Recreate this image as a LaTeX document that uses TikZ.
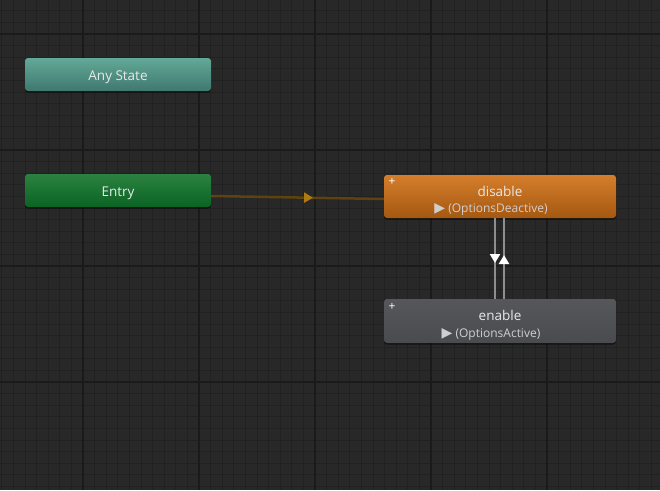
\documentclass[tikz,border=0pt]{standalone}
\usepackage{fontspec}
\setmainfont{Open Sans}
\newfontfamily\symfont{DejaVu Sans}
\usetikzlibrary{arrows.meta,decorations.markings,shadows}
\definecolor{bgc}{HTML}{282828}
\definecolor{minorc}{HTML}{212121}
\definecolor{majorc}{HTML}{1A1A1A}
\definecolor{anytop}{HTML}{62A996}
\definecolor{anybot}{HTML}{3F7870}
\definecolor{entrytop}{HTML}{2B8240}
\definecolor{entrybot}{HTML}{0A6324}
\definecolor{distop}{HTML}{D47E2C}
\definecolor{disbot}{HTML}{A55810}
\definecolor{entop}{HTML}{56575B}
\definecolor{enbot}{HTML}{4A4B4F}
\definecolor{txt}{HTML}{E8E8E8}
\definecolor{subtxt}{HTML}{CFCFCF}
\definecolor{entryline}{HTML}{5E4210}
\definecolor{entrytip}{HTML}{B07A12}
\definecolor{transline}{HTML}{8E8E8E}
\tikzset{
  statebox/.style={rounded corners=3pt, inner sep=0pt, draw=none,
    drop shadow={shadow xshift=0pt, shadow yshift=-1.5pt, opacity=0.55, fill=black}},
  titletext/.style={text=txt, font=\fontsize{13.5}{15}\selectfont, inner sep=0pt, anchor=base},
  subtext/.style={text=subtxt, font=\fontsize{12}{13}\selectfont, inner sep=0pt, anchor=base},
  plustext/.style={text=white, font=\fontsize{12}{12}\selectfont, inner sep=0pt},
  entryarrow/.style={draw=entryline, line width=2.5pt,
    postaction={decorate, decoration={markings,
      mark=at position 0.59 with {\arrow[entrytip]{Triangle[length=9pt,width=10pt]}}}}},
  transarrow/.style={draw=transline, line width=2.8pt,
    postaction={decorate, decoration={markings,
      mark=at position #1 with {\arrow[white]{Triangle[length=9pt,width=10pt]}}}}}
}
\begin{document}
\begin{tikzpicture}[x=1pt,y=-1pt]
\fill[bgc] (0,0) rectangle (660,490);
\useasboundingbox (0,0) rectangle (660,490);
% grid
\foreach \i in {0,...,57} {
  \draw[minorc, line width=1pt] ({1.8+11.6*\i},0) -- ++(0,490);
}
\foreach \i in {0,...,42} {
  \draw[minorc, line width=1pt] (0,{-0.8+11.6*\i}) -- ++(660,0);
}
\foreach \x in {83,199,315,431,547} {
  \draw[majorc, line width=1.2pt] (\x,0) -- ++(0,490);
}
\foreach \y in {34,150,266,382} {
  \draw[majorc, line width=1.2pt] (0,\y) -- ++(660,0);
}
% states
\node[statebox, top color=anytop, bottom color=anybot,
  minimum width=186pt, minimum height=33pt] (any) at (118,74.5) {};
\node[titletext] (anylbl) at (118,80) {Any State};
\node[statebox, top color=entrytop, bottom color=entrybot,
  minimum width=186pt, minimum height=33pt] (entry) at (118,190.5) {};
\node[titletext] (entrylbl) at (118,196) {Entry};
\node[statebox, top color=distop, bottom color=disbot,
  minimum width=232pt, minimum height=43pt] (disable) at (500,196.5) {};
\node[titletext] (dislbl) at (500,196) {disable};
\node[subtext] (dissub) at (491,212) {{\symfont\fontsize{14}{14}\selectfont ▶} (OptionsDeactive)};
\node[plustext] (displus) at (392,182) {+};
\node[statebox, top color=entop, bottom color=enbot,
  minimum width=232pt, minimum height=44pt] (enable) at (500,321) {};
\node[titletext] (enlbl) at (500,320.5) {enable};
\node[subtext] (ensub) at (491,337.5) {{\symfont\fontsize{14}{14}\selectfont ▶} (OptionsActive)};
\node[plustext] (enplus) at (392,307) {+};
% transitions
\draw[entryarrow] ([yshift=-5.5pt]entry.east) -- ([yshift=-2.5pt]disable.west);
\draw[transarrow=0.556] ([xshift=-5pt]disable.south) -- ([xshift=-5pt]enable.north);
\draw[transarrow=0.543] ([xshift=4pt]enable.north) -- ([xshift=4pt]disable.south);
\end{tikzpicture}
\end{document}
